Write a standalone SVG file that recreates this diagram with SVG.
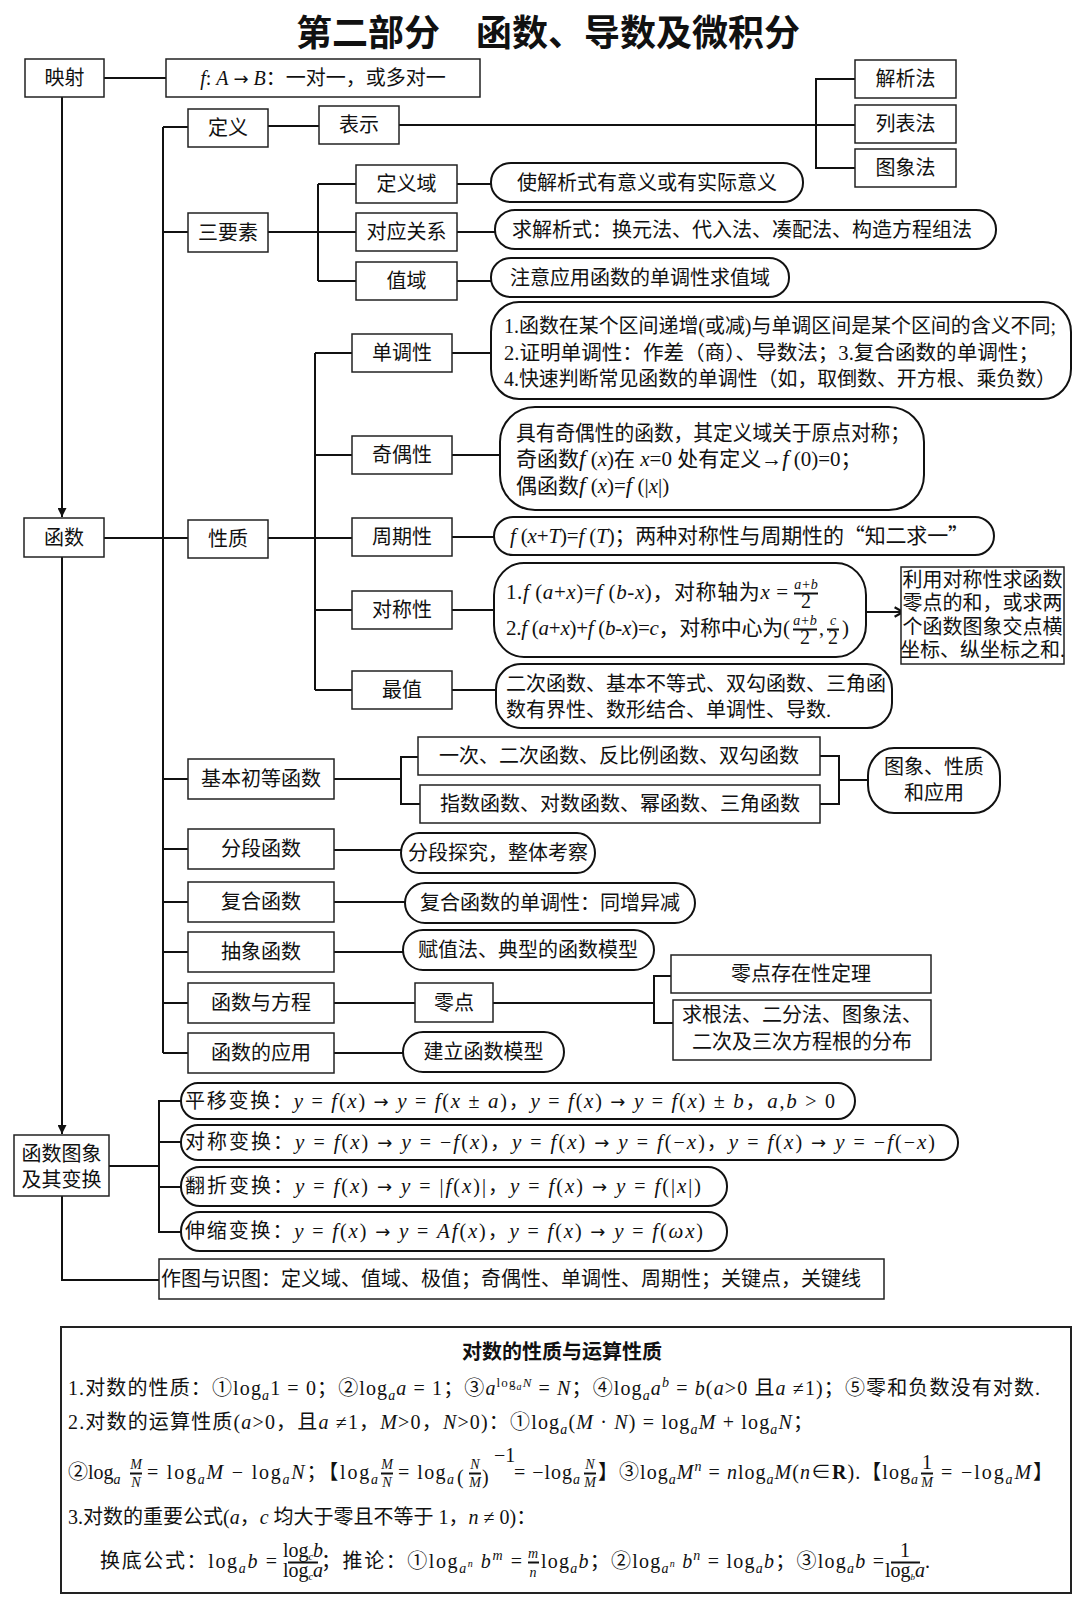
<svg xmlns="http://www.w3.org/2000/svg" width="1080" height="1609" viewBox="0 0 1080 1609">
<defs>
<style>
.box{fill:#fff;stroke:#222;stroke-width:1.5}
.rb{fill:#fff;stroke:#111;stroke-width:2}
.ln{fill:none;stroke:#111;stroke-width:2}
.t{font-family:"Liberation Serif","Noto Sans CJK SC",serif;font-size:20px;fill:#111}
.c{text-anchor:middle}
.i{font-style:italic}
.sb{font-size:14px;font-style:italic}
.f21{font-size:21px}
.cjk{font-family:"Noto Sans CJK SC",sans-serif}
.ar{font-family:"DejaVu Sans",sans-serif;font-style:normal;font-size:18px}
</style>
<marker id="arr" viewBox="0 0 10 10" refX="10" refY="5" markerWidth="12" markerHeight="9" markerUnits="userSpaceOnUse" orient="auto"><path d="M0,0 L10,5 L0,10 z" fill="#111"/></marker>
<marker id="chev" viewBox="0 0 10 10" refX="9" refY="5" markerWidth="12" markerHeight="12" markerUnits="userSpaceOnUse" orient="auto"><path d="M2,1 L9,5 L2,9" fill="none" stroke="#111" stroke-width="1.8"/></marker>
</defs>
<rect width="1080" height="1609" fill="#fff"/>
<text x="548" y="46" class="c" font-family="Noto Sans CJK SC, sans-serif" font-size="36" font-weight="bold" fill="#111">第二部分　函数、导数及微积分</text>

<g id="connectors" class="ln">
<path d="M104,78 H166"/>
<path d="M62,97 V517" marker-end="url(#arr)"/>
<path d="M62,557 V1134" marker-end="url(#arr)"/>
<path d="M62,1196 V1280 H159"/>
<path d="M104,538 H188"/>
<path d="M163,127 V1053"/>
<path d="M163,127 H188 M163,232 H188 M163,779 H188 M163,849 H188 M163,902 H188 M163,952 H188 M163,1003 H188 M163,1053 H188"/>
<path d="M268,126 H319"/>
<path d="M399,125 H855"/>
<path d="M855,79 H816 V168 H855"/>
<path d="M268,232 H318 M318,184 V281 M318,184 H356 M318,232 H356 M318,281 H356"/>
<path d="M457,184 H491 M457,232 H495 M457,281 H491"/>
<path d="M268,538 H315 M315,353 V690 M315,353 H352 M315,455 H352 M315,538 H352 M315,610 H352 M315,690 H352"/>
<path d="M452,353 H491 M452,455 H500 M452,537 H494 M452,610 H494 M452,690 H496"/>
<path d="M866,612 H903" marker-end="url(#chev)"/>
<path d="M334,779 H401 M418,757 H401 V804 H420"/>
<path d="M820,756 H839 V804 H820 M839,780 H868"/>
<path d="M334,850 H401 M334,902 H405 M334,952 H403 M334,1003 H415 M493,1003 H654 M671,976 H654 V1023 H673 M334,1053 H403"/>
<path d="M109,1166 H159 M181,1101 H159 V1232 H181 M159,1142 H181 M159,1187 H181"/>
</g>

<g id="n-yingshe"><rect class="box" x="25" y="59" width="79" height="38"/><text class="t c" x="64.5" y="85">映射</text></g>
<g id="n-fab"><rect class="box" x="166" y="59" width="314" height="38"/><text class="t c" x="323" y="85"><tspan class="i">f</tspan>: <tspan class="i">A</tspan> <tspan class="ar">→</tspan> <tspan class="i">B</tspan>：一对一，或多对一</text></g>
<g id="n-jiexi"><rect class="box" x="855" y="60" width="101" height="38"/><text class="t c" x="905.5" y="86">解析法</text></g>
<g id="n-liebiao"><rect class="box" x="855" y="105" width="101" height="38"/><text class="t c" x="905.5" y="131">列表法</text></g>
<g id="n-tuxiangfa"><rect class="box" x="855" y="149" width="101" height="38"/><text class="t c" x="905.5" y="175">图象法</text></g>
<g id="n-dingyi"><rect class="box" x="188" y="109" width="80" height="38"/><text class="t c" x="228" y="135">定义</text></g>
<g id="n-biaoshi"><rect class="box" x="319" y="106" width="80" height="38"/><text class="t c" x="359" y="132">表示</text></g>
<g id="n-sanyaosu"><rect class="box" x="188" y="213" width="80" height="39"/><text class="t c" x="228" y="239.5">三要素</text></g>
<g id="n-dingyiyu"><rect class="box" x="356" y="165" width="101" height="38"/><text class="t c" x="406.5" y="191">定义域</text></g>
<g id="n-duiying"><rect class="box" x="356" y="213" width="101" height="38"/><text class="t c" x="406.5" y="239">对应关系</text></g>
<g id="n-zhiyu"><rect class="box" x="356" y="262" width="101" height="38"/><text class="t c" x="406.5" y="288">值域</text></g>
<g id="r-shijiexi"><rect class="rb" x="491" y="163" width="312" height="39" rx="20" ry="19"/><text class="t c" x="647" y="189.5">使解析式有意义或有实际意义</text></g>
<g id="r-qiujiexi"><rect class="rb" x="495" y="210" width="501" height="39" rx="20" ry="19"/><text class="t" x="512" y="236.5">求解析式：换元法、代入法、凑配法、构造方程组法</text></g>
<g id="r-zhuyi"><rect class="rb" x="491" y="258" width="298" height="39" rx="20" ry="19"/><text class="t c" x="640" y="284.5">注意应用函数的单调性求值域</text></g>

<g id="n-hanshu"><rect class="box" x="24" y="518" width="80" height="39"/><text class="t c" x="64" y="544.5">函数</text></g>
<g id="n-xingzhi"><rect class="box" x="188" y="520" width="80" height="38"/><text class="t c" x="228" y="546">性质</text></g>
<g id="n-dandiao"><rect class="box" x="352" y="334" width="100" height="38"/><text class="t c" x="402" y="360">单调性</text></g>
<g id="r-dandiao"><rect class="rb" x="491" y="302" width="580" height="97" rx="28" ry="30"/>
<text class="t" x="504" y="333" textLength="552" lengthAdjust="spacingAndGlyphs">1.函数在某个区间递增(或减)与单调区间是某个区间的含义不同;</text>
<text class="t" x="504" y="360" textLength="535" lengthAdjust="spacingAndGlyphs">2.证明单调性：作差（商）、导数法；3.复合函数的单调性；</text>
<text class="t" x="504" y="386" textLength="552" lengthAdjust="spacingAndGlyphs">4.快速判断常见函数的单调性（如，取倒数、开方根、乘负数）</text></g>
<g id="n-jiou"><rect class="box" x="352" y="436" width="100" height="38"/><text class="t c" x="402" y="462">奇偶性</text></g>
<g id="r-jiou"><rect class="rb" x="500" y="407" width="424" height="103" rx="35" ry="35"/>
<text class="t f21" x="516" y="440" textLength="394" lengthAdjust="spacingAndGlyphs">具有奇偶性的函数，其定义域关于原点对称；</text>
<text class="t f21" x="516" y="466">奇函数<tspan class="i" font-size="23">f</tspan> (<tspan class="i">x</tspan>)在 <tspan class="i">x</tspan>=0 处有定义→<tspan class="i" font-size="23">f</tspan> (0)=0；</text>
<text class="t f21" x="516" y="493">偶函数<tspan class="i" font-size="23">f</tspan> (<tspan class="i">x</tspan>)=<tspan class="i" font-size="23">f</tspan> (|<tspan class="i">x</tspan>|)</text></g>
<g id="n-zhouqi"><rect class="box" x="352" y="518" width="100" height="38"/><text class="t c" x="402" y="544">周期性</text></g>
<g id="r-zhouqi"><rect class="rb" x="494" y="517" width="500" height="38" rx="19" ry="19"/><text class="t f21" x="510" y="543" textLength="459" lengthAdjust="spacing"><tspan class="i">f</tspan> (<tspan class="i">x</tspan>+<tspan class="i">T</tspan>)=<tspan class="i">f</tspan> (<tspan class="i">T</tspan>)；两种对称性与周期性的<tspan class="cjk">“</tspan>知二求一<tspan class="cjk">”</tspan></text></g>
<g id="n-duichen"><rect class="box" x="352" y="591" width="100" height="38"/><text class="t c" x="402" y="617">对称性</text></g>
<g id="r-duichen"><rect class="rb" x="494" y="563" width="372" height="94" rx="30" ry="32"/>
<text class="t f21" x="506" y="599" textLength="282" lengthAdjust="spacing">1.<tspan class="i">f</tspan> (<tspan class="i">a</tspan>+<tspan class="i">x</tspan>)=<tspan class="i">f</tspan> (<tspan class="i">b</tspan>-<tspan class="i">x</tspan>)，对称轴为<tspan class="i">x</tspan> =</text>
<text class="t sb c" x="806" y="589">a+b</text><path class="ln" d="M794,593.5 H818" stroke-width="1.2"/><text class="t c" x="806" y="608" font-size="14">2</text>
<text class="t f21" x="506" y="635" textLength="284" lengthAdjust="spacing">2.<tspan class="i">f</tspan> (<tspan class="i">a</tspan>+<tspan class="i">x</tspan>)+<tspan class="i">f</tspan> (<tspan class="i">b</tspan>-<tspan class="i">x</tspan>)=<tspan class="i">c</tspan>，对称中心为(</text>
<text class="t sb c" x="805" y="625">a+b</text><path class="ln" d="M793,629.5 H817" stroke-width="1.2"/><text class="t c" x="805" y="644" font-size="14">2</text>
<text class="t" x="819" y="635">,</text>
<text class="t sb c" x="833" y="625">c</text><path class="ln" d="M827,629.5 H839" stroke-width="1.2"/><text class="t c" x="833" y="644" font-size="14">2</text>
<text class="t f21" x="842" y="635">)</text></g>
<g id="n-liyong"><rect class="box" x="901" y="567" width="163" height="97"/>
<text class="t c" x="982.5" y="587" font-size="18">利用对称性求函数</text>
<text class="t c" x="982.5" y="610" font-size="18">零点的和，或求两</text>
<text class="t c" x="982.5" y="634" font-size="18">个函数图象交点横</text>
<text class="t c" x="982.5" y="657" font-size="18">坐标、纵坐标之和.</text></g>
<g id="n-zuizhi"><rect class="box" x="352" y="671" width="100" height="38"/><text class="t c" x="402" y="697">最值</text></g>
<g id="r-zuizhi"><rect class="rb" x="496" y="664" width="396" height="64" rx="25" ry="25"/>
<text class="t" x="506" y="691">二次函数、基本不等式、双勾函数、三角函</text>
<text class="t" x="506" y="717">数有界性、数形结合、单调性、导数.</text></g>

<g id="n-jiben"><rect class="box" x="188" y="759" width="146" height="40"/><text class="t c" x="261" y="786">基本初等函数</text></g>
<g id="n-yici"><rect class="box" x="418" y="737" width="402" height="38"/><text class="t c" x="619" y="763">一次、二次函数、反比例函数、双勾函数</text></g>
<g id="n-zhishu"><rect class="box" x="420" y="785" width="400" height="38"/><text class="t c" x="620" y="811">指数函数、对数函数、幂函数、三角函数</text></g>
<g id="r-tuxiangxz"><rect class="rb" x="868" y="748" width="132" height="65" rx="26" ry="28"/><text class="t c" x="934" y="774">图象、性质</text><text class="t c" x="934" y="800">和应用</text></g>
<g id="n-fenduan"><rect class="box" x="188" y="829" width="146" height="40"/><text class="t c" x="261" y="856">分段函数</text></g>
<g id="r-fenduan"><rect class="rb" x="401" y="833" width="194" height="40" rx="18" ry="20"/><text class="t c" x="498" y="860">分段探究，整体考察</text></g>
<g id="n-fuhe"><rect class="box" x="188" y="882" width="146" height="40"/><text class="t c" x="261" y="909">复合函数</text></g>
<g id="r-fuhe"><rect class="rb" x="405" y="883" width="290" height="40" rx="20" ry="20"/><text class="t c" x="550" y="910">复合函数的单调性：同增异减</text></g>
<g id="n-chouxiang"><rect class="box" x="188" y="932" width="146" height="40"/><text class="t c" x="261" y="959">抽象函数</text></g>
<g id="r-chouxiang"><rect class="rb" x="403" y="930" width="251" height="40" rx="20" ry="20"/><text class="t c" x="528" y="957">赋值法、典型的函数模型</text></g>
<g id="n-fangcheng"><rect class="box" x="188" y="983" width="146" height="40"/><text class="t c" x="261" y="1010">函数与方程</text></g>
<g id="n-lingdian"><rect class="box" x="415" y="983" width="78" height="39"/><text class="t c" x="454" y="1009.5">零点</text></g>
<g id="n-cunzai"><rect class="box" x="671" y="955" width="260" height="38"/><text class="t c" x="801" y="981">零点存在性定理</text></g>
<g id="n-qiugen"><rect class="box" x="673" y="1000" width="258" height="60"/><text class="t c" x="802" y="1022">求根法、二分法、图象法、</text><text class="t c" x="802" y="1049">二次及三次方程根的分布</text></g>
<g id="n-yingyong"><rect class="box" x="188" y="1033" width="146" height="40"/><text class="t c" x="261" y="1060">函数的应用</text></g>
<g id="r-jianli"><rect class="rb" x="403" y="1032" width="161" height="40" rx="20" ry="20"/><text class="t c" x="483.5" y="1059">建立函数模型</text></g>

<g id="n-tuxiangbh"><rect class="box" x="14" y="1135" width="95" height="61"/><text class="t c" x="61.5" y="1161">函数图象</text><text class="t c" x="61.5" y="1187">及其变换</text></g>
<g id="r-pingyi"><rect class="rb" x="181" y="1083" width="674" height="36" rx="17" ry="18"/><text class="t" x="185" y="1108" textLength="650" lengthAdjust="spacing">平移变换：<tspan class="i f21">y</tspan> = <tspan class="i f21">f</tspan>(<tspan class="i f21">x</tspan>) <tspan class="ar">→</tspan> <tspan class="i f21">y</tspan> = <tspan class="i f21">f</tspan>(<tspan class="i f21">x</tspan> ± <tspan class="i f21">a</tspan>)，<tspan class="i f21">y</tspan> = <tspan class="i f21">f</tspan>(<tspan class="i f21">x</tspan>) <tspan class="ar">→</tspan> <tspan class="i f21">y</tspan> = <tspan class="i f21">f</tspan>(<tspan class="i f21">x</tspan>) ± <tspan class="i f21">b</tspan>，<tspan class="i f21">a</tspan>,<tspan class="i f21">b</tspan> &gt; 0</text></g>
<g id="r-duichenbh"><rect class="rb" x="181" y="1125" width="777" height="35" rx="17" ry="17"/><text class="t" x="185" y="1149" textLength="750" lengthAdjust="spacing">对称变换：<tspan class="i f21">y</tspan> = <tspan class="i f21">f</tspan>(<tspan class="i f21">x</tspan>) <tspan class="ar">→</tspan> <tspan class="i f21">y</tspan> = −<tspan class="i f21">f</tspan>(<tspan class="i f21">x</tspan>)，<tspan class="i f21">y</tspan> = <tspan class="i f21">f</tspan>(<tspan class="i f21">x</tspan>) <tspan class="ar">→</tspan> <tspan class="i f21">y</tspan> = <tspan class="i f21">f</tspan>(−<tspan class="i f21">x</tspan>)，<tspan class="i f21">y</tspan> = <tspan class="i f21">f</tspan>(<tspan class="i f21">x</tspan>) <tspan class="ar">→</tspan> <tspan class="i f21">y</tspan> = −<tspan class="i f21">f</tspan>(−<tspan class="i f21">x</tspan>)</text></g>
<g id="r-fanzhe"><rect class="rb" x="181" y="1167" width="546" height="39" rx="19" ry="19"/><text class="t" x="185" y="1193" textLength="516" lengthAdjust="spacing">翻折变换：<tspan class="i f21">y</tspan> = <tspan class="i f21">f</tspan>(<tspan class="i f21">x</tspan>) <tspan class="ar">→</tspan> <tspan class="i f21">y</tspan> = |<tspan class="i f21">f</tspan>(<tspan class="i f21">x</tspan>)|，<tspan class="i f21">y</tspan> = <tspan class="i f21">f</tspan>(<tspan class="i f21">x</tspan>) <tspan class="ar">→</tspan> <tspan class="i f21">y</tspan> = <tspan class="i f21">f</tspan>(|<tspan class="i f21">x</tspan>|)</text></g>
<g id="r-shensuo"><rect class="rb" x="181" y="1212" width="546" height="39" rx="19" ry="19"/><text class="t" x="185" y="1238" textLength="518" lengthAdjust="spacing">伸缩变换：<tspan class="i f21">y</tspan> = <tspan class="i f21">f</tspan>(<tspan class="i f21">x</tspan>) <tspan class="ar">→</tspan> <tspan class="i f21">y</tspan> = <tspan class="i f21">Af</tspan>(<tspan class="i f21">x</tspan>)，<tspan class="i f21">y</tspan> = <tspan class="i f21">f</tspan>(<tspan class="i f21">x</tspan>) <tspan class="ar">→</tspan> <tspan class="i f21">y</tspan> = <tspan class="i f21">f</tspan>(<tspan class="i f21">ωx</tspan>)</text></g>
<g id="n-zuotu"><rect class="box" x="159" y="1259" width="725" height="40"/><text class="t" x="161" y="1286">作图与识图：定义域、值域、极值；奇偶性、单调性、周期性；关键点，关键线</text></g>

<g id="n-log">
<rect x="61" y="1327" width="1010" height="266" fill="#fff" stroke="#222" stroke-width="2"/>
<text class="t c" x="562" y="1359" font-weight="bold">对数的性质与运算性质</text>
<text class="t" x="68" y="1395" textLength="972" lengthAdjust="spacing">1.对数的性质：①log<tspan class="sb" dy="5">a</tspan><tspan dy="-5">1 = 0；②log</tspan><tspan class="sb" dy="5">a</tspan><tspan class="i" dy="-5">a</tspan> = 1；③<tspan class="i">a</tspan><tspan font-size="13" dy="-8">log</tspan><tspan class="i" font-size="10" dy="3">a</tspan><tspan class="i" font-size="13" dy="-3">N</tspan><tspan dy="8"> = </tspan><tspan class="i">N</tspan>；④log<tspan class="sb" dy="5">a</tspan><tspan class="i" dy="-5">a</tspan><tspan class="sb" dy="-8">b</tspan><tspan dy="8"> = </tspan><tspan class="i">b</tspan>(<tspan class="i">a</tspan>&gt;0 且<tspan class="i">a</tspan> ≠1)；⑤零和负数没有对数.</text>
<text class="t" x="68" y="1429" textLength="745" lengthAdjust="spacing">2.对数的运算性质(<tspan class="i">a</tspan>&gt;0，且<tspan class="i">a</tspan> ≠1，<tspan class="i">M</tspan>&gt;0，<tspan class="i">N</tspan>&gt;0)：①log<tspan class="sb" dy="5">a</tspan><tspan dy="-5">(</tspan><tspan class="i">M</tspan> · <tspan class="i">N</tspan>) = log<tspan class="sb" dy="5">a</tspan><tspan class="i" dy="-5">M</tspan> + log<tspan class="sb" dy="5">a</tspan><tspan class="i" dy="-5">N</tspan>；</text>

<text class="t" x="68" y="1479">②log<tspan class="sb" dy="5">a</tspan></text>
<text class="t sb c" x="136" y="1469">M</text><path class="ln" d="M130,1473.5 H142" stroke-width="1.2"/><text class="t sb c" x="136" y="1487">N</text>
<text class="t" x="147" y="1479" textLength="231" lengthAdjust="spacing">= log<tspan class="sb" dy="5">a</tspan><tspan class="i" dy="-5">M</tspan> − log<tspan class="sb" dy="5">a</tspan><tspan class="i" dy="-5">N</tspan>；【log<tspan class="sb" dy="5">a</tspan></text>
<text class="t sb c" x="387" y="1469">M</text><path class="ln" d="M381,1473.5 H393" stroke-width="1.2"/><text class="t sb c" x="387" y="1487">N</text>
<text class="t" x="398" y="1479" textLength="56" lengthAdjust="spacing">= log<tspan class="sb" dy="5">a</tspan></text>
<text class="t" x="457" y="1484" font-size="30">(</text>
<text class="t sb c" x="475" y="1469">N</text><path class="ln" d="M469,1473.5 H481" stroke-width="1.2"/><text class="t sb c" x="475" y="1487">M</text>
<text class="t" x="482" y="1484" font-size="30">)</text>
<text class="t" x="494" y="1462" font-size="14">−1</text>
<text class="t" x="514" y="1479" textLength="66" lengthAdjust="spacing">= −log<tspan class="sb" dy="5">a</tspan></text>
<text class="t sb c" x="590" y="1469">N</text><path class="ln" d="M584,1473.5 H596" stroke-width="1.2"/><text class="t sb c" x="590" y="1487">M</text>
<text class="t" x="598" y="1479" textLength="320" lengthAdjust="spacing">】③log<tspan class="sb" dy="5">a</tspan><tspan class="i" dy="-5">M</tspan><tspan class="sb" dy="-8">n</tspan><tspan dy="8"> = </tspan><tspan class="i">n</tspan>log<tspan class="sb" dy="5">a</tspan><tspan class="i" dy="-5">M</tspan>(<tspan class="i">n</tspan>∈<tspan font-weight="bold">R</tspan>).【log<tspan class="sb" dy="5">a</tspan></text>
<text class="t c" x="927" y="1469" font-size="14">1</text><path class="ln" d="M921,1473.5 H933" stroke-width="1.2"/><text class="t sb c" x="927" y="1487">M</text>
<text class="t" x="941" y="1479" textLength="112" lengthAdjust="spacing">= −log<tspan class="sb" dy="5">a</tspan><tspan class="i" dy="-5">M</tspan>】</text>

<text class="t" x="68" y="1524">3.对数的重要公式(<tspan class="i">a</tspan>，<tspan class="i">c</tspan> 均大于零且不等于 1，<tspan class="i">n</tspan> ≠ 0)：</text>

<text class="t" x="100" y="1568" textLength="177" lengthAdjust="spacing">换底公式：log<tspan class="sb" dy="5">a</tspan><tspan class="i" dy="-5">b</tspan> =</text>
<text class="t c" x="303" y="1557" font-size="13">log<tspan class="i" font-size="10" dy="3">c</tspan><tspan class="i" dy="-3">b</tspan></text><path class="ln" d="M288,1562.5 H318" stroke-width="1.2"/><text class="t c" x="303" y="1577" font-size="13">log<tspan class="i" font-size="10" dy="3">c</tspan><tspan class="i" dy="-3">a</tspan></text>
<text class="t" x="321" y="1568" textLength="201" lengthAdjust="spacing">；推论：①log<tspan class="sb" dy="5">a</tspan><tspan class="i" font-size="10" dy="-6">n</tspan><tspan class="i" dy="1"> b</tspan><tspan class="sb" dy="-8">m</tspan><tspan dy="8"> =</tspan></text>
<text class="t sb c" x="533" y="1558">m</text><path class="ln" d="M528,1562.5 H539" stroke-width="1.2"/><text class="t sb c" x="533" y="1577">n</text>
<text class="t" x="541" y="1568" textLength="343" lengthAdjust="spacing">log<tspan class="sb" dy="5">a</tspan><tspan class="i" dy="-5">b</tspan>；②log<tspan class="sb" dy="5">a</tspan><tspan class="i" font-size="10" dy="-6">n</tspan><tspan class="i" dy="1"> b</tspan><tspan class="sb" dy="-8">n</tspan><tspan dy="8"> = log</tspan><tspan class="sb" dy="5">a</tspan><tspan class="i" dy="-5">b</tspan>；③log<tspan class="sb" dy="5">a</tspan><tspan class="i" dy="-5">b</tspan> =</text>
<text class="t c" x="905" y="1557" font-size="13">1</text><path class="ln" d="M891,1562.5 H920" stroke-width="1.2"/><text class="t c" x="905" y="1577" font-size="12">log<tspan class="i" font-size="9" dy="3">b</tspan><tspan class="i" dy="-3">a</tspan></text>
<text class="t" x="925" y="1568">.</text>
</g>
</svg>
